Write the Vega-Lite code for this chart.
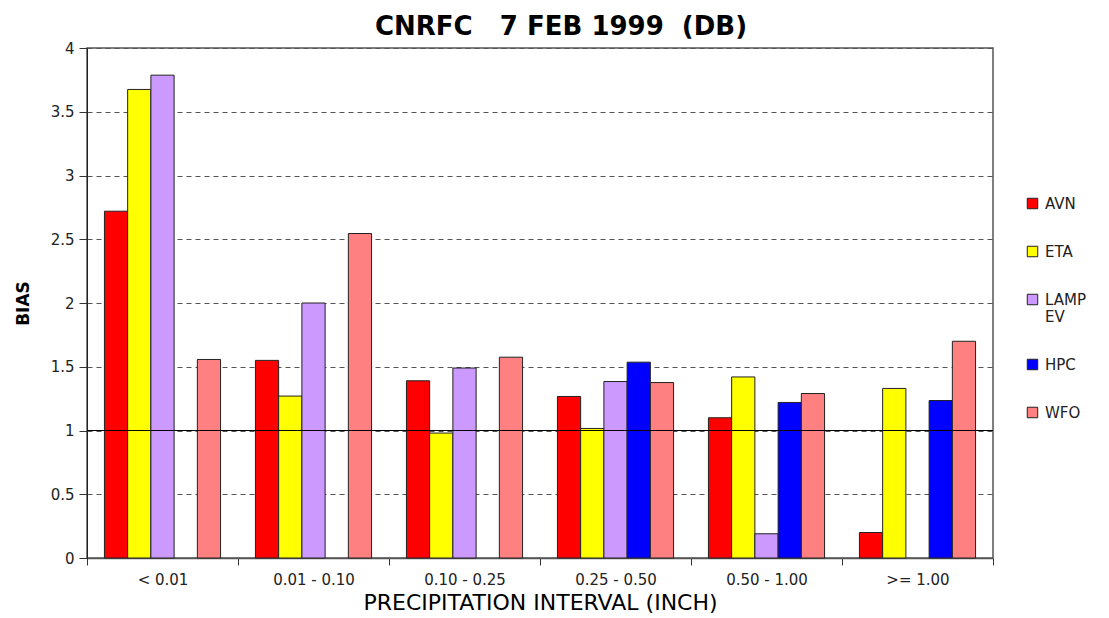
{
  "$schema": "https://vega.github.io/schema/vega-lite/v6.json",
  "autosize": {"type": "none"},
  "width": 906,
  "height": 510,
  "padding": {"left": 87, "top": 48, "right": 116, "bottom": 60},
  "background": "white",
  "title": {
    "text": "CNRFC\u00a0\u00a0\u00a07 FEB 1999\u00a0\u00a0(DB)",
    "font": "DejaVu Sans",
    "fontSize": 26,
    "fontWeight": "bold",
    "color": "#000000",
    "anchor": "middle",
    "dx": 21,
    "offset": 1
  },
  "config": {
    "font": "DejaVu Sans",
    "view": {"stroke": "#555555", "strokeWidth": 1.5}
  },
  "data": {
    "values": [
      {"interval": "< 0.01", "model": "AVN", "bias": 2.72},
      {"interval": "< 0.01", "model": "ETA", "bias": 3.675},
      {"interval": "< 0.01", "model": "LAMP EV", "bias": 3.787},
      {"interval": "< 0.01", "model": "WFO", "bias": 1.557},
      {"interval": "0.01 - 0.10", "model": "AVN", "bias": 1.55},
      {"interval": "0.01 - 0.10", "model": "ETA", "bias": 1.27},
      {"interval": "0.01 - 0.10", "model": "LAMP EV", "bias": 2.0},
      {"interval": "0.01 - 0.10", "model": "WFO", "bias": 2.545},
      {"interval": "0.10 - 0.25", "model": "AVN", "bias": 1.39},
      {"interval": "0.10 - 0.25", "model": "ETA", "bias": 0.98},
      {"interval": "0.10 - 0.25", "model": "LAMP EV", "bias": 1.49},
      {"interval": "0.10 - 0.25", "model": "WFO", "bias": 1.575},
      {"interval": "0.25 - 0.50", "model": "AVN", "bias": 1.267},
      {"interval": "0.25 - 0.50", "model": "ETA", "bias": 1.016},
      {"interval": "0.25 - 0.50", "model": "LAMP EV", "bias": 1.384},
      {"interval": "0.25 - 0.50", "model": "HPC", "bias": 1.536},
      {"interval": "0.25 - 0.50", "model": "WFO", "bias": 1.376},
      {"interval": "0.50 - 1.00", "model": "AVN", "bias": 1.10},
      {"interval": "0.50 - 1.00", "model": "ETA", "bias": 1.42},
      {"interval": "0.50 - 1.00", "model": "LAMP EV", "bias": 0.19},
      {"interval": "0.50 - 1.00", "model": "HPC", "bias": 1.22},
      {"interval": "0.50 - 1.00", "model": "WFO", "bias": 1.29},
      {"interval": ">= 1.00", "model": "AVN", "bias": 0.20},
      {"interval": ">= 1.00", "model": "ETA", "bias": 1.33},
      {"interval": ">= 1.00", "model": "HPC", "bias": 1.235},
      {"interval": ">= 1.00", "model": "WFO", "bias": 1.70}
    ]
  },
  "layer": [
    {
      "mark": {"type": "bar", "stroke": "#222222", "strokeWidth": 1},
      "encoding": {
        "x": {
          "field": "interval",
          "type": "nominal",
          "sort": ["< 0.01", "0.01 - 0.10", "0.10 - 0.25", "0.25 - 0.50", "0.50 - 1.00", ">= 1.00"],
          "scale": {"paddingInner": 0, "paddingOuter": 0},
          "axis": {
            "title": "PRECIPITATION INTERVAL (INCH)",
            "titleFont": "DejaVu Sans",
            "titleFontSize": 22,
            "titleFontWeight": "normal",
            "titleColor": "#000000",
            "titlePadding": 5,
            "labelAngle": 0,
            "labelFont": "DejaVu Sans",
            "labelFontSize": 15,
            "labelColor": "#222222",
            "labelPadding": 7,
            "tickBand": "extent",
            "tickSize": 7,
            "tickColor": "#333333",
            "domainColor": "#555555",
            "domainWidth": 1.5,
            "grid": false
          }
        },
        "xOffset": {
          "field": "model",
          "type": "nominal",
          "sort": ["AVN", "ETA", "LAMP EV", "HPC", "WFO"],
          "scale": {"paddingInner": 0, "paddingOuter": 0.75}
        },
        "y": {
          "field": "bias",
          "type": "quantitative",
          "scale": {"domain": [0, 4], "nice": false},
          "axis": {
            "title": "BIAS",
            "titleFont": "DejaVu Sans",
            "titleFontSize": 17,
            "titleFontWeight": "bold",
            "titleColor": "#000000",
            "titlePadding": 18,
            "values": [0, 0.5, 1, 1.5, 2, 2.5, 3, 3.5, 4],
            "format": "~g",
            "labelFont": "DejaVu Sans",
            "labelFontSize": 15,
            "labelColor": "#222222",
            "labelPadding": 5,
            "tickSize": 8,
            "tickColor": "#333333",
            "domainColor": "#222222",
            "grid": true,
            "gridColor": "#555555",
            "gridDash": [5, 4],
            "gridWidth": 1
          }
        },
        "color": {
          "field": "model",
          "type": "nominal",
          "sort": ["AVN", "ETA", "LAMP EV", "HPC", "WFO"],
          "scale": {
            "domain": ["AVN", "ETA", "LAMP EV", "HPC", "WFO"],
            "range": ["#FF0000", "#FFFF00", "#CC99FF", "#0000FF", "#FF8080"]
          },
          "legend": {
            "title": null,
            "orient": "none",
            "legendX": 938,
            "legendY": 148,
            "symbolType": "square",
            "symbolSize": 110,
            "symbolStrokeColor": "#222222",
            "symbolStrokeWidth": 1,
            "labelFont": "DejaVu Sans",
            "labelFontSize": 15,
            "labelColor": "#222222",
            "labelOffset": 5,
            "rowPadding": 32,
            "labelExpr": "datum.label == 'LAMP EV' ? ['LAMP', 'EV'] : datum.label"
          }
        }
      }
    },
    {
      "mark": {"type": "rule", "color": "#000000", "strokeWidth": 1},
      "encoding": {"y": {"datum": 1}}
    }
  ]
}
